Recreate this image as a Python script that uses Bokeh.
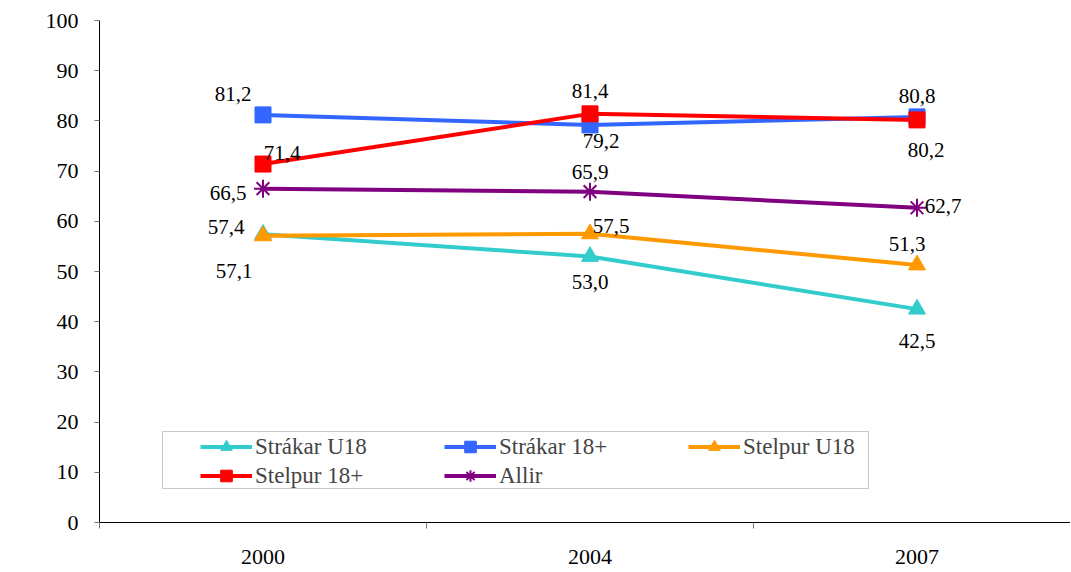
from bokeh.plotting import figure
from bokeh.models import (ColumnDataSource, Range1d, FixedTicker, Legend, LegendItem,
                          BoxAnnotation, Label)
from bokeh.core.properties import value
from bokeh.embed import file_html
from bokeh.resources import INLINE

# ---- data ----
years = ["2000", "2004", "2007"]
series_names = ["Strákar U18", "Strákar 18+", "Stelpur U18", "Stelpur 18+", "Allir"]
strakar_u18 = [57.4, 53.0, 42.5]
strakar_18 = [81.2, 79.2, 80.8]
stelpur_u18 = [57.1, 57.5, 51.3]
stelpur_18 = [71.4, 81.4, 80.2]
allir = [66.5, 65.9, 62.7]
y_ticks = list(range(0, 101, 10))

series_values = [strakar_u18, strakar_18, stelpur_u18, stelpur_18, allir]

# ---- styles ----
colors = ["#33CCCC", "#3366FF", "#FF9900", "#FF0000", "#800080"]
markers = ["triangle", "square", "triangle", "square", "asterisk"]
marker_sizes = [17, 16, 17, 16, 18]
label_offsets = [
    [(-37, -7), (0, 26), (0, 32)],
    [(-30, -21), (11, 16), (0, -21)],
    [(-29, 35), (21, -8), (-10, -21)],
    [(19, -11), (0, -23), (9, 30)],
    [(-35, 4), (0, -20), (26, -2)],
]
FONT = "Liberation Serif"

xs = [i + 0.5 for i in range(len(years))]
cat_w_px = 327.0
px_per_pct = 5.02
left_b = 99
top_b = 20
W, H = 1070, 571
frame_w = W - left_b

p = figure(width=W, height=H, output_backend="svg", toolbar_location=None,
           x_range=Range1d(0, frame_w / cat_w_px), y_range=Range1d(0, 100),
           min_border_left=left_b, min_border_top=top_b, min_border_right=0,
           min_border_bottom=H - top_b - 502)
p.outline_line_color = None
p.xgrid.visible = False
p.ygrid.visible = False
p.background_fill_color = "white"
p.border_fill_color = "white"

items = []
for name, vals, col, mk, ms, offs in zip(series_names, series_values, colors, markers,
                                          marker_sizes, label_offsets):
    src = ColumnDataSource(dict(
        x=xs, y=vals,
        lab=[f"{v:.1f}".replace(".", ",") for v in vals],
        dx=[o[0] for o in offs], dy=[o[1] for o in offs],
    ))
    ln = p.line("x", "y", source=src, line_color=col, line_width=4)
    if mk == "asterisk":
        sc = p.scatter("x", "y", source=src, marker=mk, size=ms, line_color=col, line_width=2)
    else:
        sc = p.scatter("x", "y", source=src, marker=mk, size=ms, fill_color=col,
                       line_color=col, line_width=1)
    p.text("x", "y", text="lab", source=src, x_offset="dx", y_offset="dy",
           text_align="center", text_baseline="middle", text_color="black",
           text_font=value(FONT), text_font_size="21px")
    items.append(LegendItem(label=name, renderers=[ln, sc]))

p.xaxis.ticker = FixedTicker(ticks=xs, minor_ticks=list(range(len(years) + 1)))
p.xaxis.major_label_overrides = {x: y for x, y in zip(xs, years)}
p.xaxis.major_tick_out = 0
p.xaxis.major_tick_in = 0
p.xaxis.minor_tick_out = 6
p.xaxis.minor_tick_in = 0
p.xaxis.minor_tick_line_color = "#777777"
p.xaxis.axis_line_color = "black"
p.xaxis.major_label_text_font = FONT
p.xaxis.major_label_text_font_size = "22px"
p.xaxis.major_label_text_color = "black"
p.xaxis.major_label_standoff = 21

p.yaxis.ticker = FixedTicker(ticks=y_ticks, minor_ticks=[])
p.yaxis.major_tick_out = 5
p.yaxis.major_tick_in = 0
p.yaxis.major_tick_line_color = "#777777"
p.yaxis.axis_line_color = "black"
p.yaxis.major_label_text_font = FONT
p.yaxis.major_label_text_font_size = "22px"
p.yaxis.major_label_text_color = "black"
p.yaxis.major_label_standoff = 16

pct = Label(x=-79 / cat_w_px, y=48, text="%", text_font=FONT, text_font_size="20px",
            text_align="center", text_baseline="middle", text_color="black")
p.add_layout(pct)

legend = Legend(items=items, ncols=3, orientation="horizontal", location=(101, 32),
                padding=0, spacing=0, margin=0, glyph_width=52, glyph_height=29,
                label_height=29, label_width=189, label_standoff=3,
                label_text_font=FONT, label_text_font_size="23px",
                border_line_alpha=0, background_fill_alpha=0)
p.add_layout(legend)

frame_box = BoxAnnotation(left=(162 - 99) / cat_w_px, right=(868 - 99) / cat_w_px,
                          bottom=(522 - 488) / px_per_pct, top=(522 - 431) / px_per_pct,
                          fill_alpha=0, line_color="#444444", line_width=1)
p.add_layout(frame_box)

open("out.html", "w").write(file_html(p, INLINE))
